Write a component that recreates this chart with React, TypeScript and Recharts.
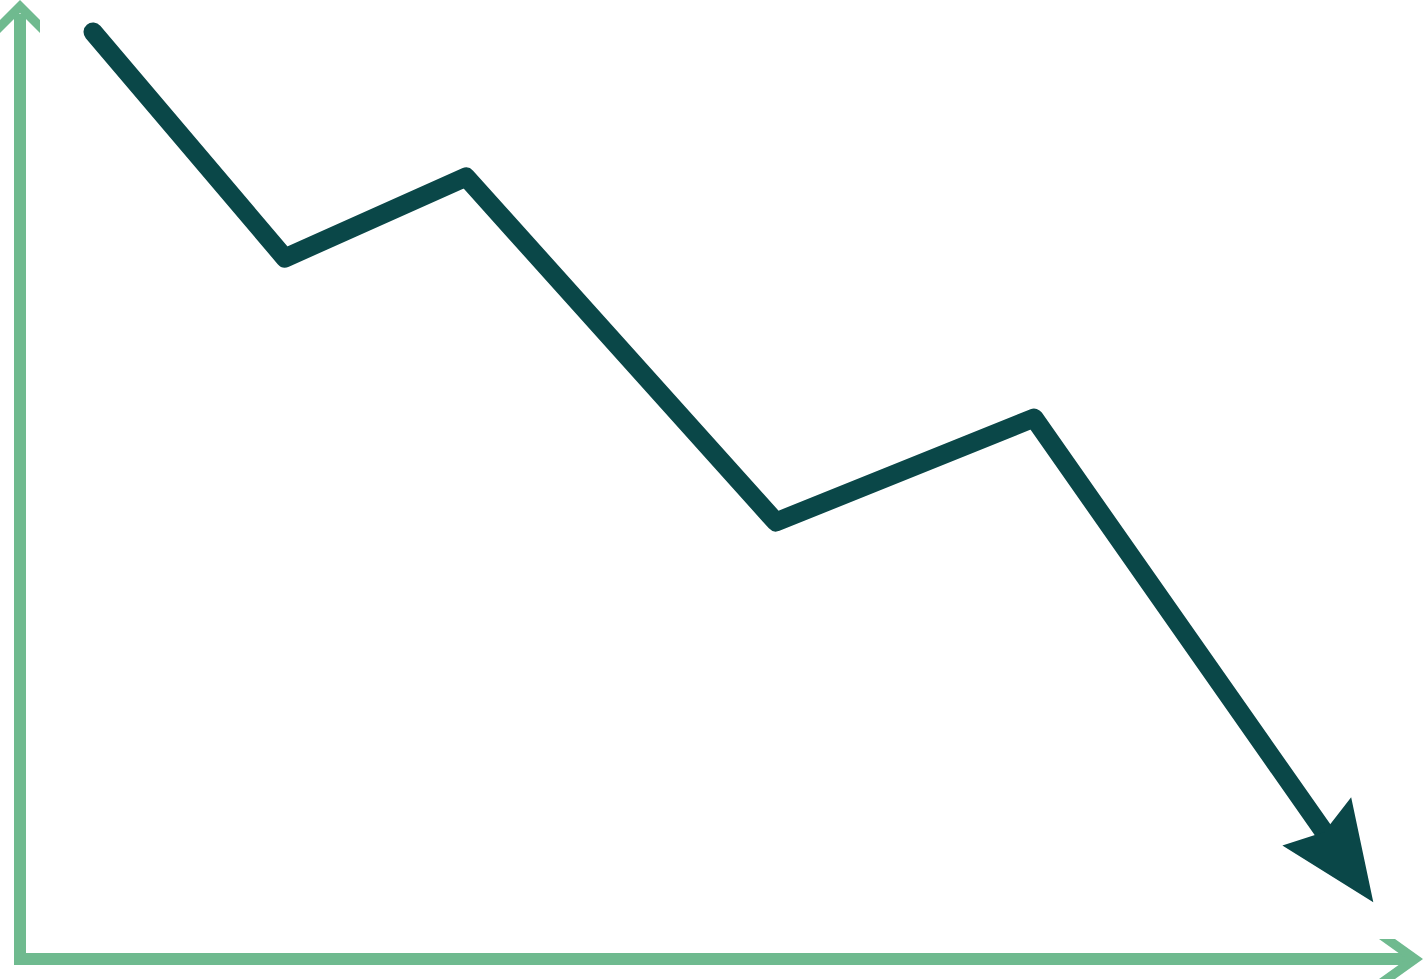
import { LineChart, Line, XAxis, YAxis } from "recharts";

// trend points (x: 0-100 across, y: 0-100 up)
const xValues = [5.28, 19.16, 32.25, 54.66, 73.32, 95.01];
const yValues = [98.72, 74.65, 83.28, 46.54, 57.61, 12.03];
const domain: [number, number] = [0, 100];

const data = xValues.map((x, i) => ({ x, y: yValues[i] }));

const LINE = "#0a4748";
const AXIS = "#6fba8f";

export default function App() {
  return (
    <div style={{ position: "absolute", left: 0, top: 0 }}>
      <LineChart
        width={1425}
        height={980}
        data={data}
        margin={{ top: 20, right: 22, bottom: 20, left: 19 }}
      >
        <defs>
          <marker
            id="trendHead"
            markerUnits="userSpaceOnUse"
            markerWidth={100}
            markerHeight={84}
            refX={30}
            refY={42}
            orient="auto"
            overflow="visible"
          >
            <path d="M0,0 L98.5,42 L0,84 L13,42 Z" fill={LINE} />
          </marker>
          {/* x axis: flatter chevron */}
          <marker
            id="xHead"
            markerUnits="userSpaceOnUse"
            markerWidth={40}
            markerHeight={40}
            refX={-20}
            refY={0}
            orient="auto"
            overflow="visible"
          >
            <path d="M0,0 L-28,-20 L-44,-20 L-16,0 L-44,20 L-28,20 Z" fill={AXIS} />
          </marker>
          {/* y axis: square chevron, drawn at the start of the line */}
          <marker
            id="yHead"
            markerUnits="userSpaceOnUse"
            markerWidth={40}
            markerHeight={40}
            refX={-20}
            refY={0}
            orient="auto-start-reverse"
            overflow="visible"
          >
            <path d="M0,0 L-20,-20 L-33,-20 L-13,0 L-33,20 L-20,20 Z" fill={AXIS} />
          </marker>
        </defs>
        <XAxis
          type="number"
          dataKey="x"
          domain={domain}
          height={1}
          tick={false}
          tickLine={false}
          axisLine={{
            stroke: AXIS,
            strokeWidth: 12,
            strokeLinecap: "square",
            markerEnd: "url(#xHead)",
          }}
        />
        <YAxis
          type="number"
          dataKey="y"
          domain={domain}
          width={1}
          tick={false}
          tickLine={false}
          axisLine={{
            stroke: AXIS,
            strokeWidth: 12,
            strokeLinecap: "square",
            markerStart: "url(#yHead)",
          }}
        />
        <Line
          type="linear"
          dataKey="y"
          stroke={LINE}
          strokeWidth={19}
          strokeLinecap="round"
          strokeLinejoin="round"
          dot={false}
          activeDot={false}
          markerEnd="url(#trendHead)"
          isAnimationActive={false}
        />
      </LineChart>
    </div>
  );
}
